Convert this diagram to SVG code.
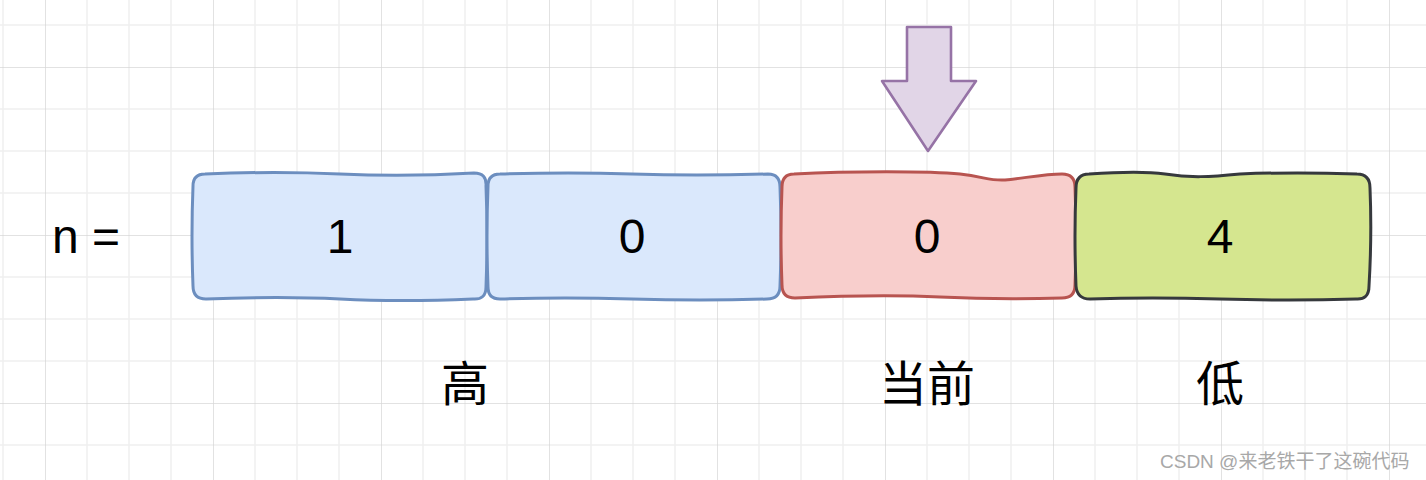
<svg xmlns="http://www.w3.org/2000/svg" width="1426" height="480" viewBox="0 0 1426 480">
  <style>
    .lbl { font-family: "Liberation Sans", "Noto Sans CJK SC", sans-serif; font-size: 48px; fill: #000; }
    .cjk { font-family: "Noto Sans CJK SC", sans-serif; font-size: 48px; fill: #000; }
    .box { stroke-width: 3; stroke-linejoin: round; }
    .blue { fill: #dae8fc; stroke: #6c8ebf; }
    .red { fill: #f8cecc; stroke: #b85450; }
    .green { fill: #d5e68f; stroke: #36393d; }
    .wm { font-family: "Liberation Sans", "Noto Sans CJK SC", sans-serif; font-size: 19px; fill: #a8a8a8; }
  </style>
  <defs>
    <pattern id="grid" patternUnits="userSpaceOnUse" x="45" y="67" width="168" height="168">
      <g stroke="#efefef" stroke-width="1.5">
        <line x1="42" y1="0" x2="42" y2="168"/>
        <line x1="84" y1="0" x2="84" y2="168"/>
        <line x1="126" y1="0" x2="126" y2="168"/>
        <line x1="0" y1="42" x2="168" y2="42"/>
        <line x1="0" y1="84" x2="168" y2="84"/>
        <line x1="0" y1="126" x2="168" y2="126"/>
      </g>
      <g stroke="#d8d8d8" stroke-width="1.5">
        <line x1="0" y1="0" x2="0" y2="168"/>
        <line x1="0" y1="0" x2="168" y2="0"/>
      </g>
    </pattern>
  </defs>
  <rect x="0" y="0" width="1426" height="480" fill="#ffffff"/>
  <rect id="grid-bg" x="0" y="0" width="1426" height="480" fill="url(#grid)"/>

  <g id="label-n">
    <text class="lbl" x="52" y="253">n =</text>
  </g>

  <g id="node-1">
    <path class="box blue" d="M205,174 Q275,171 340,174 T474,173 Q487,173 486,186 Q488,236 486,287 Q486,300 473,299 Q400,302 340,299 T206,299 Q193,299 193,286 Q191,236 193,186 Q193,174 205,174 Z"/>
    <text class="lbl" x="340" y="253" text-anchor="middle">1</text>
  </g>

  <g id="node-2">
    <path class="box blue" d="M500,174 Q570,172 632,174 T768,174 Q780,174 780,187 Q782,236 780,286 Q780,299 767,299 Q700,301 632,299 T500,299 Q488,299 488,287 Q486,236 488,186 Q488,174 500,174 Z"/>
    <text class="lbl" x="632" y="253" text-anchor="middle">0</text>
  </g>

  <g id="node-3">
    <path class="box red" d="M794,174 C850,171 930,171 960,174 C985,177 990,181 1005,180 C1025,178 1045,174 1062,174 Q1075,174 1075,187 Q1077,236 1075,285 Q1075,298 1062,298 Q1000,300 940,297 T795,298 Q782,298 782,285 Q780,236 782,187 Q782,174 794,174 Z"/>
    <text class="lbl" x="927" y="253" text-anchor="middle">0</text>
  </g>

  <g id="node-4">
    <path class="box green" d="M1089,174 C1120,172 1150,172 1165,174 C1190,178 1210,177 1240,174 C1290,172 1330,173 1357,174 Q1370,174 1370,188 Q1372,236 1369,286 Q1369,300 1356,299 Q1290,301 1220,299 T1090,299 Q1077,299 1076,286 Q1074,236 1076,188 Q1076,174 1089,174 Z"/>
    <text class="lbl" x="1220" y="253" text-anchor="middle">4</text>
  </g>

  <g id="pointer-arrow">
    <polygon points="907,27 951,27 951,81 976,81 928,151 882,81 907,81" fill="#e1d5e7" stroke="#9673a6" stroke-width="2.6" stroke-linejoin="round"/>
  </g>

  <g id="label-high">
    <text class="cjk" x="465" y="401" text-anchor="middle">高</text>
  </g>
  <g id="label-current">
    <text class="cjk" x="927" y="401" text-anchor="middle">当前</text>
  </g>
  <g id="label-low">
    <text class="cjk" x="1220" y="401" text-anchor="middle">低</text>
  </g>

  <g id="connectors"></g>

  <text class="wm" x="1160" y="468">CSDN @来老铁干了这碗代码</text>
</svg>
